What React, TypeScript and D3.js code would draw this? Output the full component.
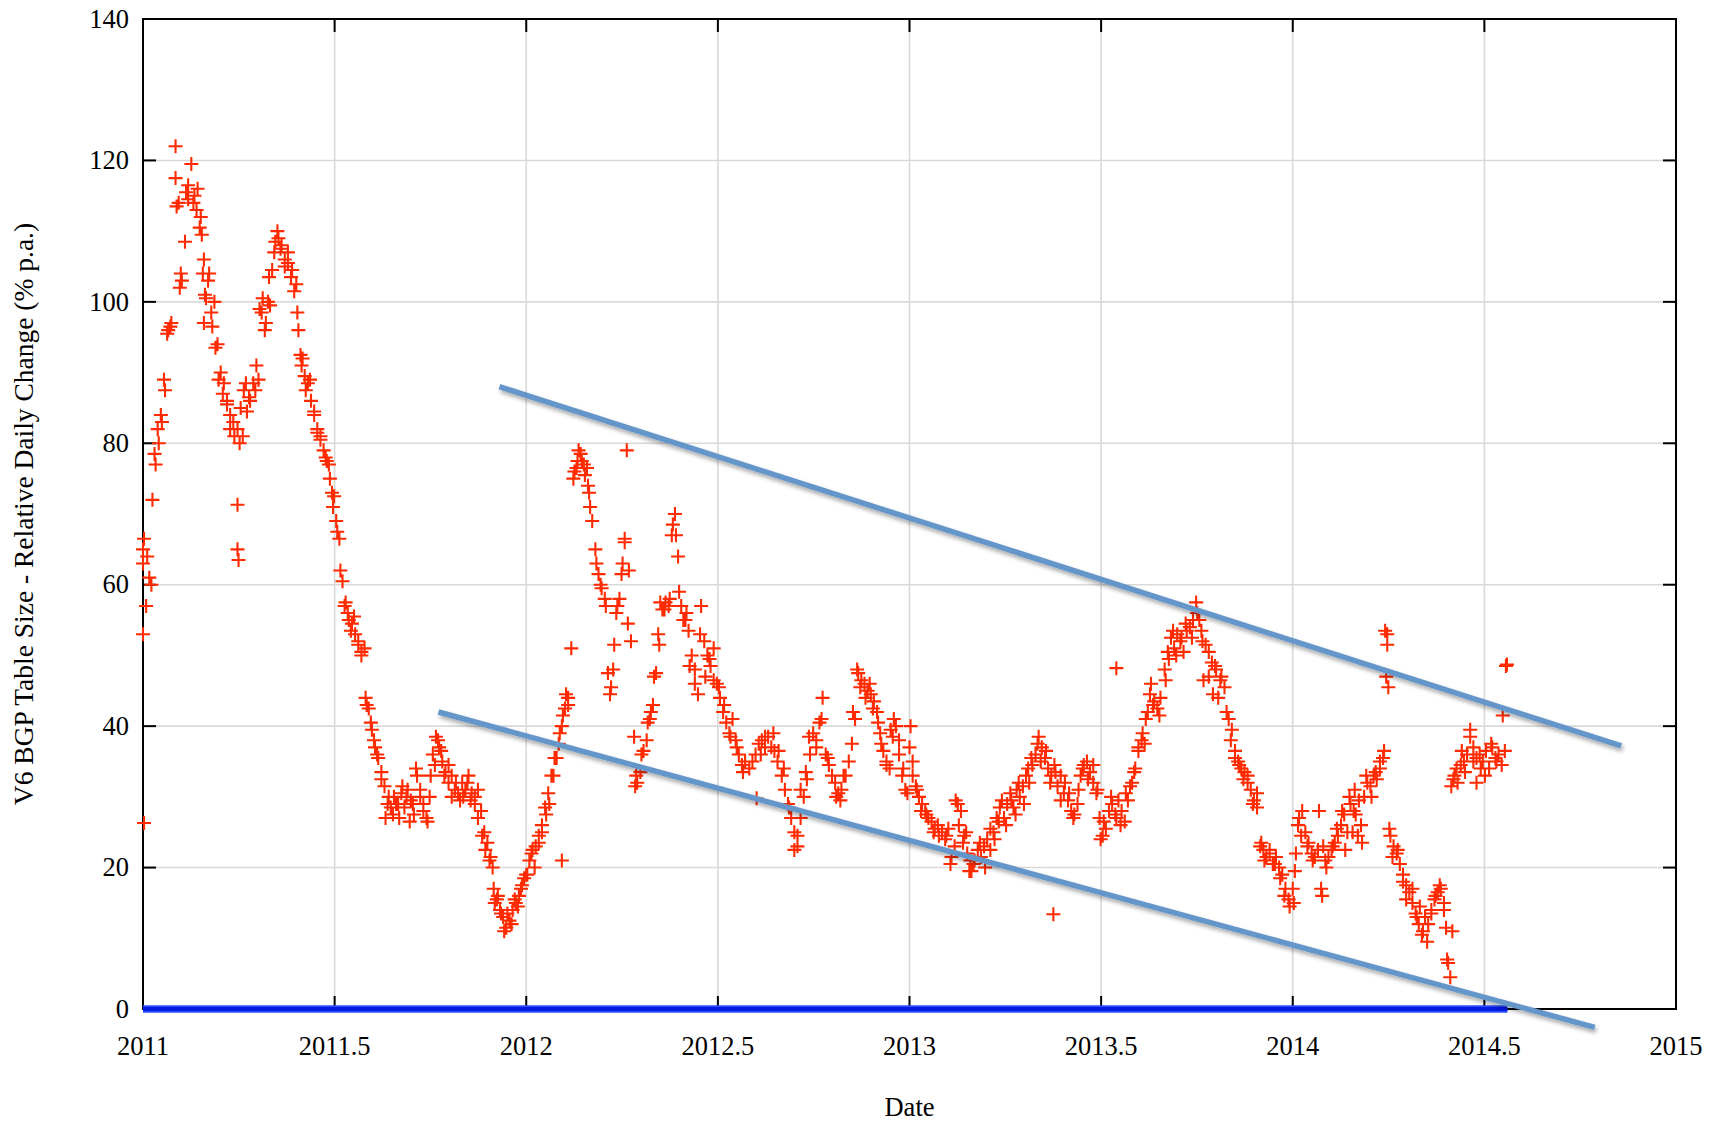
import React, { useMemo } from "react"
import * as d3 from "d3"

const WIDTH = 1725
const HEIGHT = 1121
const margin = { top: 19, right: 49, bottom: 112, left: 143 }

const xTicks = [2011, 2011.5, 2012, 2012.5, 2013, 2013.5, 2014, 2014.5, 2015]
const yTicks = [0, 20, 40, 60, 80, 100, 120, 140]

// samples every 3 days inside each month (days 1, 4, ... 28)
const sampleDays = [1, 4, 7, 10, 13, 16, 19, 22, 25, 28]

// relative daily change (% p.a.), one row per month
const growth2011 = [
  [65, 57, 61, 72, 77, 80, 83, 87.5, 96, 97],
  [122, 114, 103, 108.5, 114.5, 119.5, 115, 116, 112, 106],
  [101, 103, 98.5, 100, 94, 90, 88.5, 86, 84, 83],
  [82, 85, 87.5, 84.5, 86, 88.5, 91, 99, 100.5, 97],
  [103.5, 104.5, 108.5, 109, 108, 106, 105.5, 103.5, 101.5, 98.5],
  [91, 89.5, 88.5, 86, 84.5, 82, 80.5, 79, 77.5, 75],
  [71, 69, 66.5, 60.5, 57.5, 55, 54.5, 53, 51.5, 50.5],
  [44, 42.5, 39.5, 37, 35.5, 33.5, 31.5, 29, 28.5, 30],
  [29, 30.5, 28.5, 31, 29.5, 27.5, 33, 31, 29, 27],
  [30, 36, 38.5, 37, 35, 33.5, 32, 33, 31, 30.5],
  [32, 31, 33, 30.5, 29, 31, 28, 25, 23.5, 21.5],
  [17, 15.5, 14, 13, 11.5, 12.5, 14, 15, 16, 17.5],
]

const growth2012 = [
  [19, 21, 22.5, 23, 24.5, 26, 28.5, 30.5, 33, 35.5],
  [37.5, 40, 42.5, 44, 51, 76, 77.5, 78.5, 77, 76.5],
  [73, 69, 65, 61.5, 59.5, 58, 47.5, 45.5, 51.5, 57],
  [61.5, 66, 54.5, 52, 38.5, 32, 33.5, 36.5, 38, 41],
  [43, 47.5, 51.5, 56.5, 57.5, 57, 67, 70, 64, 57],
  [55, 53.5, 50, 46, 44.5, 57, 52, 50, 48.5, 51],
  [46, 44, 42, 40.5, 39, 41, 38, 36, 34.5, 35],
  [34, 35, 36, 37.5, 38, 37, 38.5, 37, 36.5, 35],
  [33, 31, 29, 27, 25, 23, 27, 30, 32.5, 36],
  [39, 38, 40.5, 44, 36, 34.5, 33, 32, 30.5, 31],
  [33, 35, 37.5, 41, 47.5, 46.5, 46, 45, 44.5, 43.5],
  [42, 39, 36.5, 35, 34, 38.5, 40, 36, 33, 31],
]

const growth2013 = [
  [37, 33, 31.5, 30, 29, 28, 27, 26.5, 25.5, 26],
  [25, 24, 25.5, 21.5, 23, 29, 28, 24.5, 22, 21],
  [19.5, 21, 22.5, 21.5, 23, 24, 22.5, 25, 27, 28.5],
  [27, 29, 30.5, 28.5, 31, 30, 31.5, 33, 32, 34.5],
  [36, 38.5, 37, 35.5, 34, 33, 34.5, 31.5, 33, 30.5],
  [29.5, 28, 27.5, 29, 33, 34.5, 35, 33.5, 32, 30.5],
  [27, 24.5, 25.5, 28, 29, 27.5, 29.5, 28, 26.5, 29.5],
  [32, 34, 36.5, 38, 37.5, 42, 46, 43.5, 42.5, 44],
  [48, 50.5, 52.5, 51, 53, 52, 50.5, 53.5, 54, 55],
  [57.5, 55, 52, 51.5, 47, 49, 48.5, 44, 47, 45.5],
  [41, 39.5, 36.5, 35, 34, 33.5, 32, 31, 29.5, 28.5],
  [23, 22.5, 21.5, 22, 20.5, 21.5, 20, 19, 17, 15.5],
]

const growth2014 = [
  [17, 22, 27, 28, 25, 23.5, 22, 21.5, 22.5, 17],
  [21, 21.5, 22.5, 23.5, 24.5, 26, 27.5, 25, 29, 28],
  [31, 24.5, 26, 30, 32, 31.5, 33, 32.5, 34, 35.5],
  [53, 24.5, 23, 22, 20.5, 19, 17.5, 16.5, 15, 13.5],
  [12, 10.5, 13, 12, 14, 15.5, 16.5, 17, 14, 7],
  [31.5, 33, 32, 34.5, 35, 36, 38.5, 37, 35.5, 36],
  [35, 36.5, 34, 37, 35.5, 36, 34.5, 36.5],
]

// extra daily readings between the 3-day samples (scatter and outliers)
const extraPoints: [string, number][] = [
  ["2011-01-01", 63], ["2011-01-01", 53], ["2011-01-02", 26.3], ["2011-01-02", 66.5], ["2011-01-05", 64],
  ["2011-01-09", 60], ["2011-01-12", 78.5], ["2011-01-15", 82], ["2011-01-18", 84], ["2011-01-21", 89],
  ["2011-01-24", 95.5], ["2011-01-27", 96.5],
  ["2011-02-01", 117.5], ["2011-02-02", 113.5], ["2011-02-05", 102], ["2011-02-06", 104], ["2011-02-11", 115.5],
  ["2011-02-13", 116.5], ["2011-02-18", 114], ["2011-02-21", 113], ["2011-02-24", 110.5], ["2011-02-26", 109.5],
  ["2011-02-27", 104], ["2011-02-28", 97],
  ["2011-03-02", 100.5], ["2011-03-05", 104], ["2011-03-08", 96.5], ["2011-03-11", 93.5], ["2011-03-14", 89],
  ["2011-03-18", 87], ["2011-03-22", 85.5], ["2011-03-25", 82], ["2011-03-29", 81],
  ["2011-04-01", 71.3], ["2011-04-01", 65], ["2011-04-02", 63.5], ["2011-04-03", 80], ["2011-04-06", 81],
  ["2011-04-09", 88.5], ["2011-04-12", 86.5], ["2011-04-18", 87.5], ["2011-04-21", 89], ["2011-04-24", 98.5],
  ["2011-04-27", 96], ["2011-04-30", 100],
  ["2011-05-02", 99.5], ["2011-05-06", 107], ["2011-05-09", 110], ["2011-05-12", 107.5], ["2011-05-16", 105],
  ["2011-05-19", 107], ["2011-05-23", 104.5], ["2011-05-27", 102.5], ["2011-05-29", 96], ["2011-05-31", 92.5],
  ["2011-06-02", 92], ["2011-06-05", 87.5], ["2011-06-09", 89], ["2011-06-13", 84], ["2011-06-16", 81.5],
  ["2011-06-19", 81], ["2011-06-24", 78], ["2011-06-27", 77], ["2011-06-30", 73],
  ["2011-07-02", 72.5], ["2011-07-05", 67.5], ["2011-07-08", 62], ["2011-07-12", 57], ["2011-07-15", 56],
  ["2011-07-18", 53.5], ["2011-07-21", 55.5], ["2011-07-25", 52], ["2011-07-28", 50], ["2011-07-31", 51],
  ["2011-08-02", 43], ["2011-08-06", 40.5], ["2011-08-09", 38], ["2011-08-12", 36], ["2011-08-16", 32.5],
  ["2011-08-20", 27], ["2011-08-23", 30], ["2011-08-27", 27.5], ["2011-08-30", 29],
  ["2011-09-02", 27], ["2011-09-05", 31.5], ["2011-09-09", 30], ["2011-09-12", 26.5], ["2011-09-15", 29],
  ["2011-09-18", 34], ["2011-09-22", 30], ["2011-09-25", 28], ["2011-09-29", 26.5],
  ["2011-10-02", 33], ["2011-10-06", 34.5], ["2011-10-09", 38], ["2011-10-12", 36.5], ["2011-10-15", 33],
  ["2011-10-19", 34.5], ["2011-10-22", 30], ["2011-10-26", 32], ["2011-10-30", 29.5],
  ["2011-11-02", 30], ["2011-11-06", 32], ["2011-11-09", 29.5], ["2011-11-13", 30], ["2011-11-16", 27],
  ["2011-11-20", 24.5], ["2011-11-23", 22.5], ["2011-11-27", 21], ["2011-11-30", 20],
  ["2011-12-02", 15], ["2011-12-05", 16], ["2011-12-08", 13.5], ["2011-12-11", 11], ["2011-12-14", 13.5],
  ["2011-12-18", 12], ["2011-12-21", 15.5], ["2011-12-24", 14.5], ["2011-12-27", 17], ["2011-12-30", 18.5],
  ["2012-01-02", 19], ["2012-01-06", 22], ["2012-01-09", 20], ["2012-01-13", 23.5], ["2012-01-16", 25],
  ["2012-01-20", 27.5], ["2012-01-23", 29], ["2012-01-27", 33], ["2012-01-30", 35.5],
  ["2012-02-02", 39], ["2012-02-04", 21], ["2012-02-05", 41.5], ["2012-02-08", 44.5], ["2012-02-10", 43],
  ["2012-02-15", 75], ["2012-02-18", 76.5], ["2012-02-20", 79], ["2012-02-23", 77.5], ["2012-02-26", 75.5],
  ["2012-02-29", 74],
  ["2012-03-02", 71], ["2012-03-08", 63], ["2012-03-12", 60], ["2012-03-17", 57], ["2012-03-21", 44.5],
  ["2012-03-24", 48], ["2012-03-27", 56], ["2012-03-30", 58],
  ["2012-04-02", 63], ["2012-04-04", 66.5], ["2012-04-06", 79], ["2012-04-08", 62], ["2012-04-14", 31.5],
  ["2012-04-15", 33], ["2012-04-20", 36], ["2012-04-26", 40.5], ["2012-04-29", 42],
  ["2012-05-02", 47], ["2012-05-06", 53], ["2012-05-08", 57.5], ["2012-05-12", 56.5], ["2012-05-17", 58],
  ["2012-05-20", 68.5], ["2012-05-23", 67], ["2012-05-26", 59], ["2012-05-30", 55],
  ["2012-06-02", 56], ["2012-06-05", 48.5], ["2012-06-10", 48], ["2012-06-15", 53], ["2012-06-20", 47],
  ["2012-06-24", 49.5], ["2012-06-28", 46.5],
  ["2012-07-03", 45.5], ["2012-07-08", 43], ["2012-07-14", 38.5], ["2012-07-20", 37], ["2012-07-26", 33.5],
  ["2012-08-08", 29.8], ["2012-08-12", 36], ["2012-08-16", 38.5], ["2012-08-24", 39], ["2012-08-29", 36.5],
  ["2012-09-03", 34], ["2012-09-08", 28.5], ["2012-09-13", 22.5], ["2012-09-16", 24.5], ["2012-09-19", 31],
  ["2012-09-24", 33.5], ["2012-09-27", 38.5],
  ["2012-10-04", 37], ["2012-10-09", 41], ["2012-10-15", 35.5], ["2012-10-19", 33], ["2012-10-23", 30],
  ["2012-10-27", 29.5], ["2012-10-30", 33],
  ["2012-11-08", 42], ["2012-11-12", 48], ["2012-11-15", 45.5], ["2012-11-20", 44], ["2012-11-24", 46],
  ["2012-11-27", 42.5],
  ["2012-12-02", 40.5], ["2012-12-05", 37.5], ["2012-12-10", 34.5], ["2012-12-14", 39.5], ["2012-12-17", 41],
  ["2012-12-22", 38], ["2012-12-26", 34], ["2012-12-30", 30.5],
  ["2013-01-02", 40], ["2013-01-04", 35], ["2013-01-08", 31], ["2013-01-12", 28], ["2013-01-17", 27.5],
  ["2013-01-24", 25], ["2013-01-29", 24.5],
  ["2013-02-05", 24.5], ["2013-02-09", 20.5], ["2013-02-14", 29.5], ["2013-02-17", 26], ["2013-02-21", 23.5],
  ["2013-02-24", 25], ["2013-02-27", 19.5],
  ["2013-03-03", 20.5], ["2013-03-09", 23.5], ["2013-03-14", 20], ["2013-03-19", 25.5], ["2013-03-23", 24],
  ["2013-03-27", 26.5], ["2013-03-30", 29.5],
  ["2013-04-03", 26], ["2013-04-08", 29.5], ["2013-04-12", 27.5], ["2013-04-15", 32], ["2013-04-20", 29],
  ["2013-04-24", 34], ["2013-04-27", 35.5],
  ["2013-05-03", 37.5], ["2013-05-06", 35], ["2013-05-11", 36.5], ["2013-05-15", 32], ["2013-05-18", 13.4],
  ["2013-05-20", 33.5], ["2013-05-25", 29.5], ["2013-05-29", 32],
  ["2013-06-02", 30.5], ["2013-06-06", 27], ["2013-06-11", 31], ["2013-06-15", 34], ["2013-06-20", 32.5],
  ["2013-06-25", 34.5], ["2013-06-29", 31],
  ["2013-07-02", 24], ["2013-07-05", 26.5], ["2013-07-12", 30], ["2013-07-17", 48.2], ["2013-07-17", 27],
  ["2013-07-21", 26], ["2013-07-26", 30.5], ["2013-07-30", 31.5],
  ["2013-08-03", 33.5], ["2013-08-07", 37], ["2013-08-11", 39], ["2013-08-14", 41], ["2013-08-18", 44.5],
  ["2013-08-21", 43], ["2013-08-27", 41.5],
  ["2013-09-02", 46.5], ["2013-09-05", 49.5], ["2013-09-09", 53.5], ["2013-09-12", 50], ["2013-09-17", 52.5],
  ["2013-09-21", 54.5], ["2013-09-27", 52.5],
  ["2013-10-02", 56], ["2013-10-06", 53.5], ["2013-10-08", 46.5], ["2013-10-13", 50.5], ["2013-10-17", 44.5],
  ["2013-10-20", 48], ["2013-10-24", 46.5], ["2013-10-30", 42],
  ["2013-11-03", 38], ["2013-11-07", 35.5], ["2013-11-11", 34.5], ["2013-11-15", 32.5], ["2013-11-19", 33],
  ["2013-11-24", 29], ["2013-11-28", 30.5],
  ["2013-12-02", 23.5], ["2013-12-05", 21], ["2013-12-10", 22.5], ["2013-12-15", 20.5], ["2013-12-20", 18.5],
  ["2013-12-24", 16], ["2013-12-29", 14.5],
  ["2014-01-02", 15], ["2014-01-03", 19.5], ["2014-01-06", 26], ["2014-01-09", 24.5], ["2014-01-15", 23],
  ["2014-01-20", 21], ["2014-01-26", 28], ["2014-01-29", 16], ["2014-01-30", 23],
  ["2014-02-02", 20], ["2014-02-08", 23], ["2014-02-12", 25.5], ["2014-02-17", 28], ["2014-02-20", 22.5],
  ["2014-02-24", 30], ["2014-02-27", 25],
  ["2014-03-02", 27.5], ["2014-03-05", 29.5], ["2014-03-08", 23.5], ["2014-03-12", 33], ["2014-03-17", 30],
  ["2014-03-21", 33.5], ["2014-03-25", 35], ["2014-03-29", 36.5],
  ["2014-03-30", 53.5], ["2014-04-01", 51.5], ["2014-03-31", 47], ["2014-04-02", 45.5], ["2014-04-03", 25.5],
  ["2014-04-06", 21.5], ["2014-04-11", 22.5], ["2014-04-16", 18], ["2014-04-19", 15.5], ["2014-04-25", 17],
  ["2014-04-29", 13],
  ["2014-05-02", 14.5], ["2014-05-05", 11], ["2014-05-09", 9.5], ["2014-05-13", 13.5], ["2014-05-17", 16],
  ["2014-05-21", 17.5], ["2014-05-25", 15], ["2014-05-27", 11.5], ["2014-05-29", 6.5], ["2014-05-31", 4.5],
  ["2014-06-02", 11],
  ["2014-06-03", 32.5], ["2014-06-06", 34], ["2014-06-11", 36.5], ["2014-06-14", 33.5], ["2014-06-19", 39.5],
  ["2014-06-22", 35], ["2014-06-25", 32], ["2014-06-29", 34],
  ["2014-07-03", 33], ["2014-07-09", 37.5], ["2014-07-14", 35], ["2014-07-20", 41.5], ["2014-07-23", 48.5],
  ["2014-07-24", 48.7],
]

// hand-drawn trend channel and zero line, in data units
const upperTrend: [number, number][] = [[2011.93, 88.0], [2014.857, 37.2]]
const lowerTrend: [number, number][] = [[2011.771, 42.0], [2014.788, -2.6]]
const zeroLine: [number, number][] = [[2011, 0], [2014.56, 0]]

const decimalYear = (y: number, m: number, d: number) => {
  const t0 = Date.UTC(y, 0, 1)
  const t1 = Date.UTC(y + 1, 0, 1)
  return y + (Date.UTC(y, m, d) - t0) / (t1 - t0)
}

const buildPoints = () => {
  const pts: [number, number][] = []
  const years: [number, number[][]][] = [
    [2011, growth2011],
    [2012, growth2012],
    [2013, growth2013],
    [2014, growth2014],
  ]
  years.forEach(([year, rows]) => {
    rows.forEach((row, m) => {
      row.forEach((v, i) => pts.push([decimalYear(year, m, sampleDays[i]), v]))
    })
  })
  extraPoints.forEach(([s, v]) => {
    const [y, m, d] = s.split("-").map(Number)
    pts.push([decimalYear(y, m - 1, d), v])
  })
  return pts
}

export default function App() {
  const points = useMemo(buildPoints, [])

  const x = d3
    .scaleLinear()
    .domain([2011, 2015])
    .range([margin.left, WIDTH - margin.right])
  const y = d3
    .scaleLinear()
    .domain([0, 140])
    .range([HEIGHT - margin.bottom, margin.top])

  const line = d3
    .line<[number, number]>()
    .x((d) => x(d[0]))
    .y((d) => y(d[1]))

  const x0 = x(2011)
  const x1 = x(2015)
  const yTop = y(140)
  const yBot = y(0)
  const tick = 13
  const font = "'Liberation Serif', 'Times New Roman', Times, serif"
  const arm = 7

  const crosses = points
    .map(([t, v]) => {
      const px = x(t)
      const py = y(v)
      return `M${px - arm},${py}h${arm * 2}M${px},${py - arm}v${arm * 2}`
    })
    .join("")

  return (
    <svg
      width={WIDTH}
      height={HEIGHT}
      style={{ position: "absolute", left: 0, top: 0, background: "#fff" }}
    >
      <defs>
        <filter id="shadow" x="-5%" y="-20%" width="110%" height="140%">
          <feDropShadow dx="1.5" dy="3" stdDeviation="2" floodColor="#000" floodOpacity="0.35" />
        </filter>
      </defs>
      <rect width={WIDTH} height={HEIGHT} fill="#fff" />

      {/* grid */}
      <g stroke="#d9d9d9" strokeWidth={1.6}>
        {xTicks.slice(1, -1).map((t) => (
          <line key={"gx" + t} x1={x(t)} x2={x(t)} y1={yTop} y2={yBot} />
        ))}
        {yTicks.slice(1, -1).map((t) => (
          <line key={"gy" + t} x1={x0} x2={x1} y1={y(t)} y2={y(t)} />
        ))}
      </g>

      {/* frame and inward ticks */}
      <g stroke="#000" strokeWidth={2}>
        <rect x={x0} y={yTop} width={x1 - x0} height={yBot - yTop} fill="none" />
        {xTicks.slice(1, -1).map((t) => (
          <g key={"tx" + t}>
            <line x1={x(t)} x2={x(t)} y1={yBot} y2={yBot - tick} />
            <line x1={x(t)} x2={x(t)} y1={yTop} y2={yTop + tick} />
          </g>
        ))}
        {yTicks.slice(1, -1).map((t) => (
          <g key={"ty" + t}>
            <line x1={x0} x2={x0 + tick} y1={y(t)} y2={y(t)} />
            <line x1={x1} x2={x1 - tick} y1={y(t)} y2={y(t)} />
          </g>
        ))}
      </g>

      {/* tick labels */}
      <g fontFamily={font} fontSize={26.5} fill="#000">
        {yTicks.map((t) => (
          <text key={"ly" + t} x={x0 - 14} y={y(t)} dy="0.33em" textAnchor="end">
            {t}
          </text>
        ))}
        {xTicks.map((t) => (
          <text key={"lx" + t} x={x(t)} y={yBot + 46} textAnchor="middle">
            {t}
          </text>
        ))}
        <text x={(x0 + x1) / 2} y={yBot + 107} textAnchor="middle">
          Date
        </text>
        <text
          fontSize={27.5}
          transform={`translate(33,${(yTop + yBot) / 2}) rotate(-90)`}
          textAnchor="middle"
        >
          V6 BGP Table Size - Relative Daily Change (% p.a.)
        </text>
      </g>

      {/* data */}
      <path d={crosses} stroke="#ff2a00" strokeWidth={2.1} fill="none" />

      {/* zero line */}
      <path d={line(zeroLine) ?? ""} stroke="#2a4dff" strokeWidth={7.5} fill="none" />
      <path d={line(zeroLine) ?? ""} stroke="#0019e6" strokeWidth={4} fill="none" />

      {/* trend channel */}
      <g filter="url(#shadow)" stroke="#6596ca" strokeWidth={5.5} fill="none">
        <path d={line(upperTrend) ?? ""} />
        <path d={line(lowerTrend) ?? ""} />
      </g>
    </svg>
  )
}
